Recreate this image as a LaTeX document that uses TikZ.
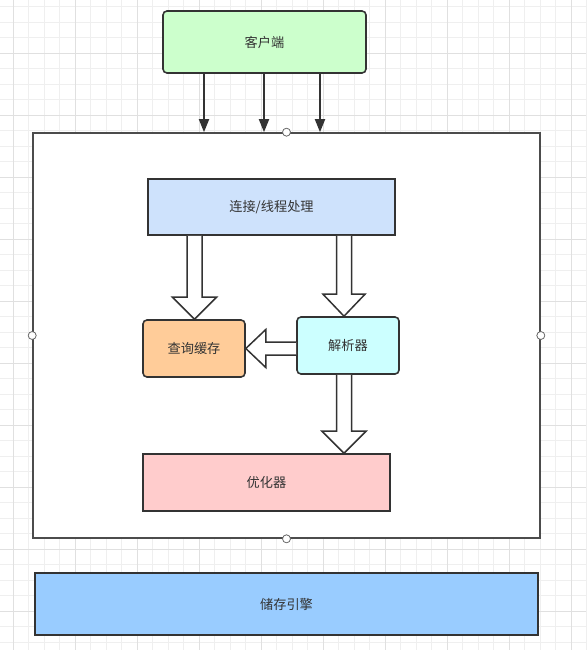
\documentclass[tikz,border=0pt]{standalone}
\usepackage{fontspec}
\newfontfamily\cjk{Noto Sans CJK SC}
\usetikzlibrary{arrows.meta,calc}
\definecolor{gridminor}{HTML}{EFEFEF}
\definecolor{gridmajor}{HTML}{E0E0E0}
\definecolor{edge}{HTML}{333333}
\definecolor{txt}{HTML}{333333}
\tikzset{
  box/.style={draw=edge, line width=1.6pt, inner sep=0pt, font=\cjk\fontsize{13.2}{15}\selectfont, text=txt},
  rbox/.style={box, rounded corners=4pt},
  hollow/.style={draw=edge, line width=1.5pt, fill=white, line join=miter},
  solidarrow/.style={draw=edge, line width=1.8pt, -{Triangle[length=13pt,width=10pt]}},
  handle/.style={circle, draw=gray!80!black, fill=white, line width=0.8pt, minimum size=8pt, inner sep=0pt},
}
\begin{document}
\begin{tikzpicture}[x=1pt,y=-1pt]
\useasboundingbox (0,0) rectangle (586,650);
% grid
\foreach \gx in {-2.5,13,...,590} \draw[gridminor, line width=0.6pt] (\gx,0) -- (\gx,650);
\foreach \gy in {6.5,22,...,655} \draw[gridminor, line width=0.6pt] (0,\gy) -- (586,\gy);
\foreach \gx in {13,75,...,590} \draw[gridmajor, line width=0.8pt] (\gx,0) -- (\gx,650);
\foreach \gy in {53,115,...,655} \draw[gridmajor, line width=0.8pt] (0,\gy) -- (586,\gy);

% outer container
\node[draw=gray!60!black, line width=1.6pt, fill=white, minimum width=507pt, minimum height=405pt, inner sep=0pt] (outer) at (286.5,335.5) {};

% nodes
\node[rbox, fill={rgb,255:red,204;green,255;blue,204}, minimum width=203pt, minimum height=62pt] (client) at (264.5,42) {客户端};
\node[box, fill={rgb,255:red,206;green,226;blue,252}, minimum width=247pt, minimum height=56pt] (conn) at (271.5,207) {连接/线程处理};
\node[rbox, fill={rgb,255:red,255;green,204;blue,153}, minimum width=102pt, minimum height=57pt] (cache) at (194,348.5) {查询缓存};
\node[rbox, fill={rgb,255:red,204;green,255;blue,255}, minimum width=102pt, minimum height=57pt] (parser) at (348,345.5) {解析器};
\node[box, fill={rgb,255:red,255;green,204;blue,204}, minimum width=247pt, minimum height=57pt] (opt) at (266.5,482.5) {优化器};
\node[box, fill={rgb,255:red,153;green,204;blue,255}, minimum width=503pt, minimum height=62pt] (engine) at (286.5,604) {储存引擎};

% handles on container
\node[handle] (h1) at (outer.north) {};
\node[handle] (h2) at (outer.south) {};
\node[handle] (h3) at (outer.west) {};
\node[handle] (h4) at (outer.east) {};

% solid arrows from client
\coordinate (ax1) at (204,0);
\coordinate (ax2) at (264,0);
\coordinate (ax3) at (320,0);
\draw[solidarrow] (client.south -| ax1) -- (outer.north -| ax1);
\draw[solidarrow] (client.south -| ax2) -- (outer.north -| ax2);
\draw[solidarrow] (client.south -| ax3) -- (outer.north -| ax3);

% hollow arrows
\coordinate (lx) at (194.5,0);
\coordinate (rx) at (344,0);
\coordinate (A1) at (conn.south -| lx);
\coordinate (B1) at (cache.north -| lx);
\draw[hollow] ($(A1)+(-7.5,0)$) -- ($(B1)+(-7.5,-22)$) -- ($(B1)+(-22,-22)$) -- (B1) -- ($(B1)+(22,-22)$) -- ($(B1)+(7.5,-22)$) -- ($(A1)+(7.5,0)$);
\coordinate (A2) at (conn.south -| rx);
\coordinate (B2) at (parser.north -| rx);
\draw[hollow] ($(A2)+(-7.5,0)$) -- ($(B2)+(-7.5,-22)$) -- ($(B2)+(-21,-22)$) -- (B2) -- ($(B2)+(21,-22)$) -- ($(B2)+(7.5,-22)$) -- ($(A2)+(7.5,0)$);
\coordinate (A3) at (parser.south -| rx);
\coordinate (B3) at (opt.north -| rx);
\draw[hollow] ($(A3)+(-7.5,0)$) -- ($(B3)+(-7.5,-22)$) -- ($(B3)+(-22,-22)$) -- (B3) -- ($(B3)+(22,-22)$) -- ($(B3)+(7.5,-22)$) -- ($(A3)+(7.5,0)$);
\coordinate (hy) at (0,348.5);
\coordinate (A4) at (parser.west |- hy);
\coordinate (B4) at (cache.east |- hy);
\draw[hollow] ($(A4)+(0,-6.5)$) -- ($(B4)+(20,-6.5)$) -- ($(B4)+(20,-19)$) -- (B4) -- ($(B4)+(20,19)$) -- ($(B4)+(20,6.5)$) -- ($(A4)+(0,6.5)$);
\end{tikzpicture}
\end{document}
